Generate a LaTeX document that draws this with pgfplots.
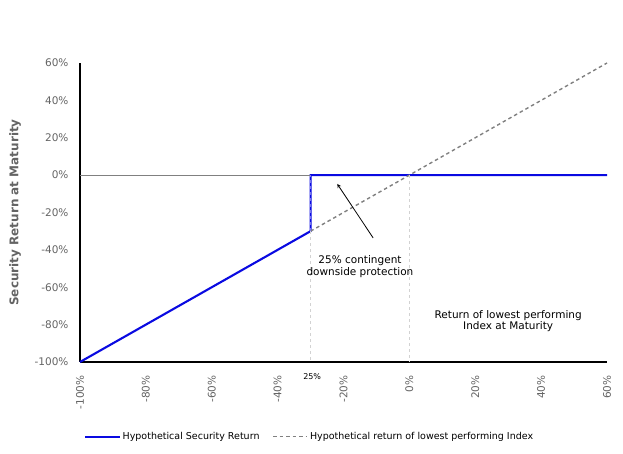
\documentclass[border=0pt]{standalone}
\usepackage{pgfplots}
\pgfplotsset{compat=1.18}
\usepackage{fontspec}
\setmainfont{DejaVu Sans}
\definecolor{tickgray}{RGB}{100,100,100}
\definecolor{lineblue}{RGB}{10,10,225}
\definecolor{dashgray}{RGB}{128,128,128}
\definecolor{lightg}{RGB}{210,210,210}
\begin{document}
\begin{tikzpicture}
\useasboundingbox (-80pt,-92pt) rectangle (543pt,362pt);
\begin{axis}[
  at={(0pt,0pt)}, anchor=south west,
  scale only axis, width=527pt, height=299pt,
  xmin=-100, xmax=60, ymin=-100, ymax=60,
  axis x line*=bottom, axis y line*=left,
  axis line style={black, line width=1.2pt},
  xtick={-100,-80,...,60}, ytick={-100,-80,...,60},
  xticklabels={-100\%,-80\%,-60\%,-40\%,-20\%,0\%,20\%,40\%,60\%},
  yticklabels={-100\%,-80\%,-60\%,-40\%,-20\%,0\%,20\%,40\%,60\%},
  x tick label style={rotate=90, anchor=east, font=\fontsize{10.5}{12}\selectfont, text=tickgray},
  y tick label style={font=\fontsize{10.5}{12}\selectfont, text=tickgray},
  xticklabel shift=10pt, yticklabel shift=8pt,
  major tick length=0pt,
  ylabel={\textbf{Security Return at Maturity}},
  ylabel style={font=\fontsize{12}{14}\selectfont, text=tickgray, anchor=center, at={(axis description cs:-0.123,0.5)}},
  legend style={at={(0.436,-0.25)}, anchor=center, draw=none, fill=none, legend columns=2,
    font=\fontsize{9.5}{11}\selectfont, /tikz/every even column/.append style={column sep=11pt}},
  legend image code/.code={\draw[#1] (0cm,0cm) -- (1.2cm,0cm);},
  legend cell align=left,
  clip=false,
]
\addplot[lineblue, line width=2.1pt] coordinates {(-100,-100) (-30,-30) (-30,0) (60,0)};
\addlegendentry{Hypothetical Security Return}
\addplot[dashgray, dash pattern=on 3.5pt off 3pt, line width=1.4pt] coordinates {(-30,-30) (60,60)};
\addlegendentry{Hypothetical return of lowest performing Index}
\addplot[dashgray, line width=0.8pt, forget plot] coordinates {(-100,0) (-30,0)};
\addplot[lightg, dashed, line width=0.7pt, forget plot] coordinates {(-30,-30) (-30,-100)};
\addplot[lightg, dashed, line width=0.7pt, forget plot] coordinates {(0,0) (0,-100)};
\addplot[lineblue!55, dashed, line width=0.7pt, forget plot] coordinates {(-30,-30) (-30,0)};
\draw[-stealth, line width=0.8pt] (axis cs:-11,-33.6) -- (axis cs:-21.9,-4.7);
\node[align=center, font=\fontsize{10.5}{11.5}\selectfont] at (axis cs:-15,-49) {25\% contingent\\downside protection};
\node[align=center, font=\fontsize{10.5}{10.5}\selectfont] at (axis cs:30,-78) {Return of lowest performing\\Index at Maturity};
\node[font=\fontsize{8}{9}\selectfont] at (axis cs:-29.5,-108) {25\%};
\end{axis}
\end{tikzpicture}
\end{document}
